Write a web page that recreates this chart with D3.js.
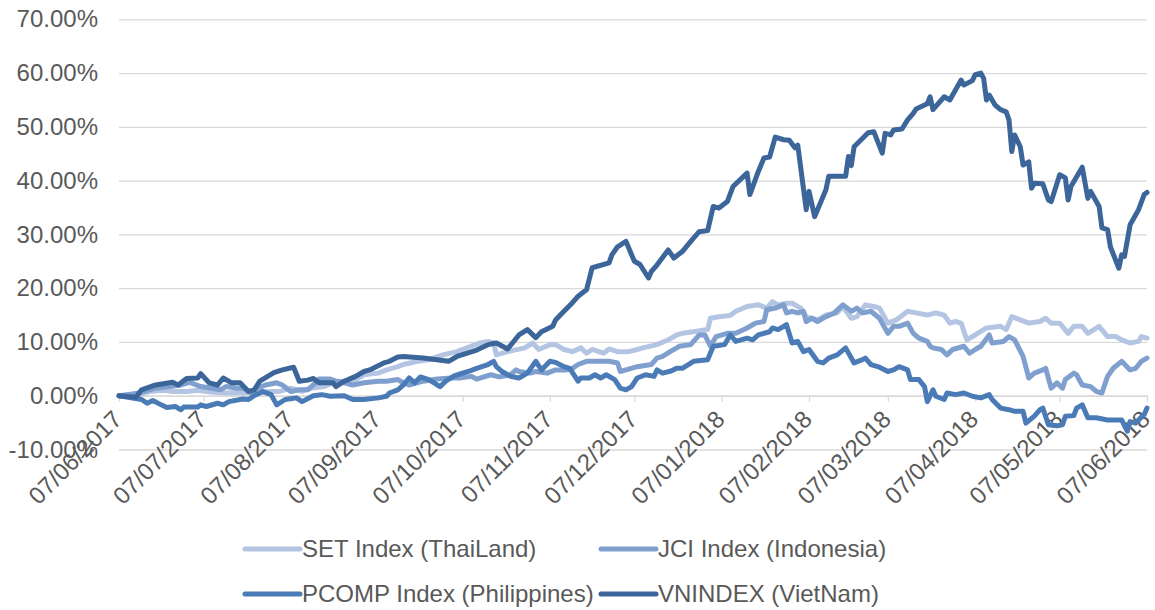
<!DOCTYPE html>
<html>
<head>
<meta charset="utf-8">
<script src="https://cdn.jsdelivr.net/npm/d3@7"></script>
<style>
  html, body { margin: 0; padding: 0; background: #ffffff; }
  svg { display: block; font-family: "Liberation Sans", Arial, sans-serif; }
</style>
</head>
<body>
<svg id="chart" width="1155" height="610"></svg>
<script>
// ---- DATA (day = days since 07/06/2017, value = cumulative return in %) ----
const startDate = "2017-06-07";
const seriesNames = ["SET Index (ThaiLand)", "JCI Index (Indonesia)", "PCOMP Index (Philippines)", "VNINDEX (VietNam)"];
const tickLabels = ["07/06/2017","07/07/2017","07/08/2017","07/09/2017","07/10/2017","07/11/2017","07/12/2017",
                    "07/01/2018","07/02/2018","07/03/2018","07/04/2018","07/05/2018","07/06/2018"];
const yTicks = [-10, 0, 10, 20, 30, 40, 50, 60, 70];

const setIndex = [[0,0],[7,0.2],[11,0.8],[16,1.0],[19,0.8],[24,0.8],[28,1.0],[31,0.8],[35,0.6],[38,0.5],[42,0.6],[45,0.5],[49,0.6],[54,0.8],[57,0.8],[61,1.4],[65,0.8],[68,1.4],[73,1.7],[77,2.7],[82,2.7],[84,3.0],[87,3.9],[92,4.2],[95,4.8],[99,5.4],[101,5.8],[106,6.4],[110,6.7],[115,7.6],[120,8.2],[125,9.2],[128,9.8],[131,10.1],[133,9.8],[134,7.6],[138,8.2],[144,8.9],[147,9.8],[149,8.6],[153,9.5],[155,9.5],[158,8.6],[161,8.2],[164,8.9],[166,7.9],[168,8.6],[172,7.9],[174,8.7],[177,8.2],[181,8.2],[184,8.6],[186,8.9],[191,9.5],[195,10.4],[198,11.3],[200,11.6],[204,11.9],[209,12.3],[210,14.4],[213,14.7],[217,14.9],[219,15.7],[223,16.6],[227,16.9],[230,16.3],[232,17.5],[234,16.9],[237,17.2],[239,17.2],[242,16.3],[244,14.7],[248,14.1],[251,15.0],[255,15.4],[257,16.6],[260,14.4],[262,14.7],[265,16.9],[268,16.6],[270,16.3],[273,13.5],[276,14.1],[280,15.7],[283,15.4],[287,15.0],[290,15.4],[293,15.0],[295,13.5],[297,13.8],[299,13.5],[301,10.4],[304,11.3],[308,12.6],[313,12.9],[315,12.3],[317,14.7],[320,14.1],[323,13.5],[327,13.8],[329,14.4],[331,13.5],[334,13.5],[337,11.6],[339,12.9],[342,12.9],[344,11.6],[348,12.9],[351,11.0],[354,11.0],[356,10.4],[359,9.8],[362,10.1],[363,11.0],[365,10.7]];

const jciIndex = [[0,0],[6,0.4],[9,0.8],[13,1.4],[18,1.7],[22,2.0],[25,2.5],[29,1.7],[33,1.4],[36,1.1],[38,1.7],[42,1.4],[44,1.4],[47,0.5],[49,1.4],[52,2.0],[56,2.4],[58,2.0],[61,0.8],[64,1.1],[67,1.1],[69,2.0],[71,3.1],[75,3.1],[77,2.7],[80,2.4],[83,2.0],[87,2.4],[92,2.7],[95,2.7],[99,3.0],[100,2.7],[103,2.0],[108,2.7],[113,3.1],[118,3.3],[121,3.3],[125,3.6],[127,3.1],[132,3.9],[135,3.5],[139,3.9],[141,4.8],[142,4.5],[146,4.2],[148,4.5],[152,4.2],[155,4.8],[159,4.8],[161,5.1],[163,5.8],[166,6.4],[171,6.4],[174,6.4],[177,6.1],[178,4.5],[180,4.8],[184,5.4],[189,5.8],[191,7.0],[193,7.3],[196,8.3],[198,8.9],[199,9.2],[203,9.5],[206,11.3],[208,11.3],[210,9.2],[212,11.0],[216,11.6],[219,11.6],[223,12.6],[226,13.5],[229,13.8],[230,16.0],[233,16.3],[236,16.9],[237,15.4],[239,15.7],[241,15.4],[243,15.7],[244,13.8],[246,14.4],[248,13.8],[251,14.7],[254,15.4],[257,16.9],[260,15.7],[262,16.3],[264,15.4],[267,15.7],[270,14.4],[273,11.6],[275,12.9],[277,12.9],[280,13.5],[282,11.6],[284,10.7],[287,10.1],[288,9.2],[289,8.9],[292,8.6],[294,7.6],[296,8.6],[300,9.2],[302,7.9],[304,8.6],[306,9.2],[309,11.3],[310,9.8],[314,10.1],[316,11.0],[318,10.4],[321,7.3],[323,3.3],[325,4.2],[328,4.8],[329,5.1],[331,1.4],[333,2.4],[335,1.4],[336,3.0],[339,4.2],[340,3.9],[342,2.0],[345,1.7],[347,0.8],[349,0.5],[351,3.6],[353,5.1],[356,6.4],[359,4.8],[361,5.1],[363,6.4],[364,6.7],[365,7.0]];

const pcompIndex = [[0,0],[8,-0.7],[10,-1.4],[12,-0.9],[15,-1.7],[17,-2.2],[20,-2.0],[22,-2.6],[23,-2.1],[28,-2.1],[29,-1.7],[31,-2.0],[35,-1.4],[37,-1.7],[39,-1.1],[44,-0.6],[46,-0.7],[48,0],[51,0.8],[54,0.2],[56,-1.7],[59,-0.7],[63,-0.4],[65,-1.1],[69,0],[72,0.2],[75,-0.1],[80,0],[83,-0.7],[87,-0.7],[92,-0.4],[95,-0.1],[96,0.5],[99,1.1],[101,2.0],[103,3.3],[105,2.4],[107,3.5],[110,3.0],[113,2.0],[114,1.7],[116,2.7],[119,3.7],[122,4.2],[124,4.5],[127,5.1],[131,5.8],[133,6.4],[134,5.4],[136,4.5],[139,3.6],[142,3.3],[145,4.2],[148,6.4],[150,4.8],[153,6.4],[155,6.2],[158,5.4],[160,5.1],[163,2.7],[164,3.3],[167,3.3],[169,3.9],[171,3.3],[173,3.9],[176,3.0],[178,1.4],[180,1.1],[182,1.7],[184,3.3],[187,3.9],[190,3.6],[191,4.8],[193,4.2],[196,4.6],[198,5.1],[200,5.1],[204,6.4],[209,6.7],[211,9.2],[215,9.5],[217,11.3],[219,10.1],[223,10.7],[225,10.4],[227,11.3],[231,11.9],[232,12.6],[234,12.3],[237,13.2],[239,9.8],[241,10.1],[243,8.2],[245,8.6],[248,6.4],[250,6.1],[252,7.0],[255,7.6],[258,8.9],[261,6.1],[264,6.7],[265,7.0],[267,5.8],[270,5.3],[273,4.5],[275,4.8],[277,5.4],[280,4.8],[281,3.0],[284,3.0],[286,1.7],[287,-1.1],[289,1.1],[290,-0.1],[293,-0.7],[294,0.5],[297,0.2],[300,0.5],[303,-0.1],[306,-0.4],[309,0.2],[310,-0.7],[313,-2.3],[316,-2.6],[318,-2.9],[321,-2.9],[322,-5.1],[325,-3.8],[327,-2.6],[328,-2.3],[330,-5.4],[333,-5.6],[335,-5.4],[336,-3.8],[339,-3.7],[340,-2.3],[342,-1.7],[344,-4.1],[347,-4.1],[351,-4.5],[354,-4.5],[356,-4.5],[358,-6.6],[359,-4.8],[361,-5.1],[362,-4.5],[364,-3.5],[365,-2.3]];

const vnIndex = [[0,0],[6,-0.3],[8,1.1],[13,2.0],[19,2.5],[21,2.0],[24,3.2],[28,3.3],[29,4.1],[32,2.4],[35,2.0],[37,3.3],[40,2.4],[43,2.4],[46,0.8],[48,1.1],[50,2.7],[55,4.3],[58,4.8],[62,5.3],[64,2.7],[67,2.9],[69,3.2],[71,2.4],[76,2.4],[77,1.7],[80,2.7],[84,3.6],[87,4.5],[89,4.8],[94,6.1],[96,6.4],[99,7.2],[101,7.3],[108,7.0],[117,6.4],[120,7.3],[127,8.5],[131,9.5],[134,9.8],[138,8.7],[142,11.3],[145,12.3],[148,10.8],[150,11.9],[154,12.9],[155,14.1],[158,15.7],[161,17.3],[163,18.5],[166,19.7],[168,23.8],[174,24.7],[175,26.2],[177,27.7],[180,28.7],[182,26.2],[183,25.0],[185,24.4],[188,21.9],[189,23.1],[191,24.3],[195,27.1],[197,25.6],[200,26.8],[203,28.7],[206,30.5],[209,30.7],[211,35.2],[213,34.9],[216,36.1],[218,38.9],[223,41.4],[224,37.4],[227,41.7],[229,44.2],[231,44.4],[233,48.1],[236,47.6],[238,47.5],[240,46.1],[241,46.6],[244,34.6],[245,38.0],[247,33.3],[251,38.3],[252,40.8],[258,40.8],[259,44.5],[260,42.8],[261,46.3],[266,48.9],[268,49.1],[271,45.1],[272,48.8],[274,48.5],[275,49.4],[278,49.6],[280,51.3],[282,52.5],[283,53.3],[287,54.3],[288,55.6],[289,53.2],[293,55.6],[295,55.0],[299,58.7],[300,57.8],[303,58.6],[304,59.7],[306,60.0],[307,59.0],[308,55.0],[309,55.9],[311,54.1],[313,53.2],[315,52.8],[316,51.3],[317,45.4],[318,48.5],[320,46.3],[321,42.9],[323,43.5],[324,38.6],[325,39.5],[328,39.4],[330,36.4],[331,36.1],[334,41.1],[336,40.5],[337,36.4],[338,38.9],[342,42.5],[344,36.7],[345,38.0],[348,35.2],[349,31.2],[351,30.9],[352,27.7],[355,23.7],[356,26.2],[357,25.9],[359,31.8],[362,34.6],[364,37.4],[365,37.8]];

const seriesData = [setIndex, jciIndex, pcompIndex, vnIndex];
const seriesColors = ["#b4c5e3", "#7f9fcf", "#4a7bb7", "#3c6599"];

// ---- CHART ----
const svg = d3.select("#chart");
const plotLeft = 119, plotRight = 1147, plotTop = 19.3, plotBottom = 449.5;
const start = d3.utcParse("%Y-%m-%d")(startDate);
const end = d3.utcMonth.offset(start, 12);

const x = d3.scaleUtc().domain([start, end]).range([plotLeft, plotRight]);
const y = d3.scaleLinear().domain([-10, 70]).range([plotBottom, plotTop]);

const textColor = "#595959";
const gridColor = "#d9d9d9";
const fontSize = "24px";
const fontFamily = '"Liberation Sans", Arial, sans-serif';

// y axis + gridlines
const yAxis = svg.append("g")
  .attr("transform", `translate(${plotLeft},0)`)
  .call(d3.axisLeft(y).tickValues(yTicks)
    .tickSize(-(plotRight - plotLeft))
    .tickPadding(21)
    .tickFormat(d => d.toFixed(2) + "%"));
yAxis.select(".domain").remove();
yAxis.selectAll(".tick line").attr("stroke", gridColor).attr("stroke-width", 1.3);
yAxis.selectAll(".tick text").attr("fill", textColor).style("font-size", fontSize)
  .style("font-family", fontFamily);

// x axis at 0%
const monthTicks = d3.range(tickLabels.length).map(i => d3.utcMonth.offset(start, i));
const xAxis = svg.append("g")
  .attr("transform", `translate(0,${y(0)})`)
  .call(d3.axisBottom(x).tickValues(monthTicks).tickSize(6).tickSizeOuter(0)
    .tickFormat((d, i) => tickLabels[i]));
xAxis.select(".domain").attr("stroke", gridColor).attr("stroke-width", 1.3);
xAxis.selectAll(".tick line").attr("stroke", gridColor).attr("stroke-width", 1.3);
xAxis.selectAll(".tick text")
  .attr("fill", textColor)
  .style("font-size", fontSize)
  .style("font-family", fontFamily)
  .style("text-anchor", "end")
  .attr("x", 0).attr("y", 0).attr("dy", 0)
  .attr("transform", "translate(4,25) rotate(-45)");

// lines
const line = d3.line()
  .x(d => x(d3.utcDay.offset(start, d[0])))
  .y(d => y(d[1]));

svg.append("g").selectAll("path")
  .data(seriesData)
  .join("path")
  .attr("d", line)
  .attr("fill", "none")
  .attr("stroke", (d, i) => seriesColors[i])
  .attr("stroke-width", 5)
  .attr("stroke-linejoin", "round")
  .attr("stroke-linecap", "round");

// legend
const legendPos = [[245, 549], [601, 549], [245, 594], [601, 594]];
const legend = svg.append("g").selectAll("g")
  .data(seriesNames)
  .join("g")
  .attr("transform", (d, i) => `translate(${legendPos[i][0]},${legendPos[i][1]})`);
legend.append("line")
  .attr("x1", 0).attr("x2", 55).attr("y1", 0).attr("y2", 0)
  .attr("stroke", (d, i) => seriesColors[i])
  .attr("stroke-width", 5)
  .attr("stroke-linecap", "round");
legend.append("text")
  .attr("x", 57).attr("y", 0).attr("dy", "0.35em")
  .attr("fill", textColor)
  .style("font-size", fontSize)
  .style("font-family", fontFamily)
  .text(d => d);
</script>
</body>
</html>
